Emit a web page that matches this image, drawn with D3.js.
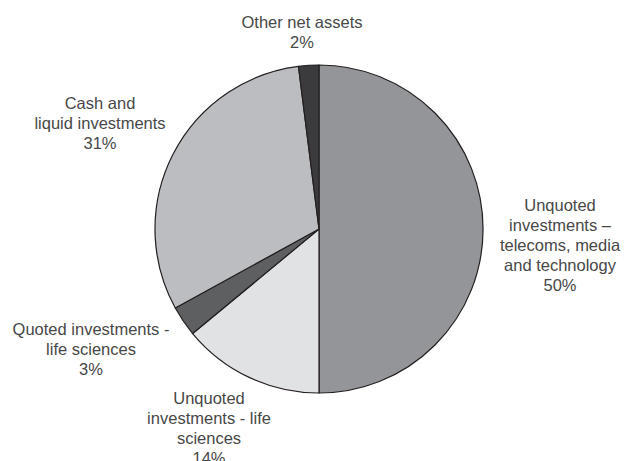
<!DOCTYPE html>
<html lang="en">
<head>
  <meta charset="utf-8" />
  <title>Net assets breakdown</title>
  <script src="https://d3js.org/d3.v7.min.js"></script>
  <style>
    body { margin: 0; background: #fff; }
    .label { font-family: "Liberation Sans", Arial, sans-serif; font-size: 16.5px; fill: #484848; }
    .slice { stroke: #231f20; stroke-width: 1.2; stroke-linejoin: round; }
  </style>
</head>
<body>
<svg width="624" height="461"></svg>
<script>
// slices, in drawing order clockwise from 12 o'clock
var labels = [
  ["Unquoted", "investments \u2013", "telecoms, media", "and technology"],
  ["Unquoted", "investments - life", "sciences"],
  ["Quoted investments -", "life sciences"],
  ["Cash and", "liquid investments"],
  ["Other net assets"]
];
var values = [50, 14, 3, 31, 2];
var fills = ["#939598", "#e1e2e4", "#5e5f61", "#bcbdc0", "#3b3b3d"];

// where each label block sits, relative to pie centre (x centre, first baseline)
var labelAnchors = [[241, -18], [-110, 175], [-228, 106], [-219, -120], [-17, -201]];

var svg = d3.select("svg");
var cx = 319, cy = 229, radius = 164;
var lineH = 20;

var pie = d3.pie().sort(null).value(function (d) { return d; });
var arc = d3.arc().innerRadius(0).outerRadius(radius);

var g = svg.append("g").attr("transform", "translate(" + cx + "," + cy + ")");

g.selectAll("path")
  .data(pie(values))
  .enter()
  .append("path")
  .attr("class", "slice")
  .attr("fill", function (d, i) { return fills[i]; })
  .attr("d", arc);

// labels
var lab = g.selectAll("text.label")
  .data(values)
  .enter()
  .append("text")
  .attr("class", "label")
  .attr("text-anchor", "middle")
  .attr("transform", function (d, i) {
    return "translate(" + labelAnchors[i][0] + "," + labelAnchors[i][1] + ")";
  });

lab.each(function (d, i) {
  var t = d3.select(this);
  var lines = labels[i].concat([d + "%"]);
  lines.forEach(function (s, j) {
    t.append("tspan").attr("x", 0).attr("y", j * lineH).text(s);
  });
});
</script>
</body>
</html>
